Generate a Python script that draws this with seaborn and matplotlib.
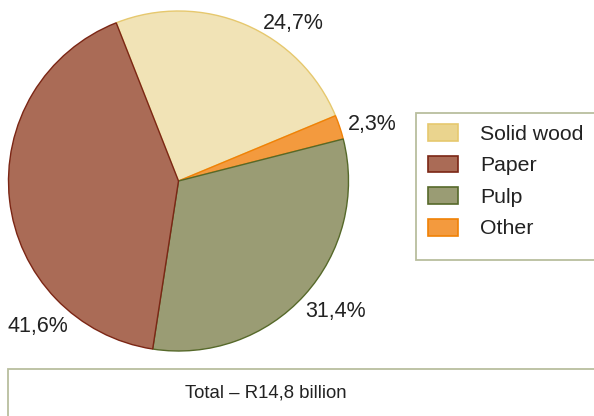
import matplotlib
matplotlib.use("Agg")
import matplotlib.pyplot as plt
from matplotlib.patches import Rectangle, Patch
import seaborn as sns

# Export sectors, in clockwise order around the pie
sectors = ["Solid wood", "Other", "Pulp", "Paper"]
shares = [24.7, 2.3, 31.4, 41.6]
legend_order = ["Solid wood", "Paper", "Pulp", "Other"]
total_label = "Total – R14,8 billion"

face_colors = {"Solid wood": "#F1E3B6", "Paper": "#AA6B56",
               "Pulp": "#9A9C74", "Other": "#F39A3E"}
edge_colors = {"Solid wood": "#E6C86E", "Paper": "#7B2615",
               "Pulp": "#56692A", "Other": "#F08106"}
legend_faces = {"Solid wood": "#EAD48E", "Paper": "#AA6B56",
                "Pulp": "#9A9C74", "Other": "#F39A3E"}

# label positions in pie-radius units
label_pos = {"Solid wood": (0.674, 0.927), "Other": (1.138, 0.335),
             "Pulp": (0.926, -0.767), "Paper": (-0.826, -0.855)}

sns.set_theme(style="white")
plt.rcParams["font.family"] = ["Liberation Sans", "DejaVu Sans"]

W, H = 594, 416
fig = plt.figure(figsize=(W / 100, H / 100), dpi=100)

# pie axes: centre (178.5, 181) px, radius 170 px
cx, cy, r = 178.5, 181, 170
ax = fig.add_axes([(cx - r) / W, (H - cy - r) / H, 2 * r / W, 2 * r / H])
wedges, _ = ax.pie(shares, startangle=111.5, counterclock=False,
                   colors=[face_colors[s] for s in sectors],
                   wedgeprops=dict(linewidth=1.0))
for w, s in zip(wedges, sectors):
    w.set_edgecolor(edge_colors[s])
ax.set_xlim(-1, 1)
ax.set_ylim(-1, 1)
ax.set_aspect("equal")
ax.axis("off")

for s, v in zip(sectors, shares):
    x, y = label_pos[s]
    ax.text(x, y, f"{v:.1f}%".replace(".", ","), ha="center", va="center",
            fontsize=15.5, color="#222222", clip_on=False)

box_edge = "#B9BE9E"
# legend frame
fig.patches.append(Rectangle((416 / W, 1 - 260 / H), 200 / W, 147 / H,
                             transform=fig.transFigure, facecolor="white",
                             edgecolor=box_edge, linewidth=1.3, zorder=0))
handles = [Patch(facecolor=legend_faces[s], edgecolor=edge_colors[s], linewidth=1.2)
           for s in legend_order]
fig.legend(handles, legend_order, loc="upper left",
           bbox_to_anchor=(428 / W, 1 - 124 / H), frameon=False,
           fontsize=15.3, handlelength=1.41, handleheight=0.85,
           handletextpad=1.04, labelspacing=0.55, borderaxespad=0,
           borderpad=0, labelcolor="#222222")

# total box
fig.patches.append(Rectangle((8 / W, 1 - 430 / H), 600 / W, 61 / H,
                             transform=fig.transFigure, facecolor="white",
                             edgecolor=box_edge, linewidth=1.3, zorder=0))
fig.text(266 / W, 1 - 393 / H, total_label, ha="center", va="center",
         fontsize=13.4, color="#222222")

fig.savefig("out.png", dpi=100)
